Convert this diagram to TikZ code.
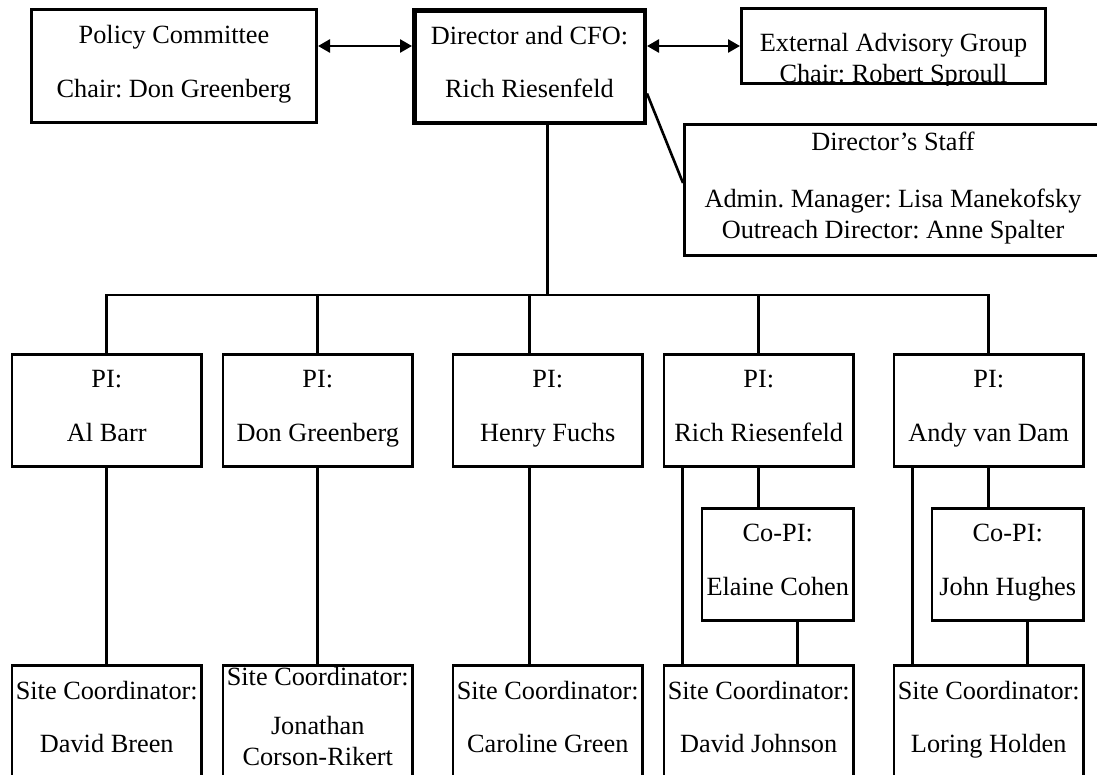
\documentclass[tikz,border=0pt]{standalone}
\usepackage{fontspec}
\setmainfont{Liberation Serif}
\usetikzlibrary{positioning,arrows.meta}
\frenchspacing

\begin{document}
\begin{tikzpicture}[x=1pt, y=-1pt, line width=2.6pt, align=center,
      font=\fontsize{26.3}{31.6}\selectfont, inner sep=1pt,
      >={Triangle[length=12pt,width=13pt]},
      txt/.style ={execute at begin node=\strut, execute at end node=\strut},
      box/.style ={draw, txt, minimum width=189.4pt, minimum height=112.4pt},
      head/.style={box, line width=4.5pt, minimum width=230.5pt, minimum height=112.5pt},
      copi/.style={box, minimum width=151.4pt},  ]

    \useasboundingbox (0,0) rectangle (1097,774);
    \clip (0,0) rectangle (1097,774);

    % top row
    \node[box, minimum width=285.4pt, minimum height=113.4pt] (policy) at (174,66)
         {Policy Committee\\[22pt]Chair: Don Greenberg};
    \node[head] (director) at (529.5,66.5) {Director and CFO:\\[22pt]Rich Riesenfeld};
    \node[box, minimum width=304.4pt, minimum height=75.4pt] (ext) at (893.5,46) {};
    \begin{scope}
      \clip (ext.north west) rectangle (ext.south east);
      \node[txt] (ext-text) at (893.5,62.5) {External Advisory Group\\Chair: Robert Sproull};
    \end{scope}
    \node[box, minimum width=417.4pt, minimum height=131.4pt] (staff) at (893,190)
         {Director’s Staff\\[25pt]Admin. Manager: Lisa Manekofsky\\[-1pt]Outreach Director: Anne Spalter};

    % PIs
    \node[box                        ] (pi-1) at (106.75,410.5) {PI:\\[22pt]Al Barr};
    \node[box, right = 19pt of pi-1  ] (pi-2) {PI:\\[22pt]Don Greenberg};
    \node[box, right = 38pt of pi-2  ] (pi-3) {PI:\\[22pt]Henry Fuchs};
    \node[box, right = 19pt of pi-3  ] (pi-4) {PI:\\[22pt]Rich Riesenfeld};
    \node[box, right = 38pt of pi-4  ] (pi-5) {PI:\\[22pt]Andy van Dam};

    \node[copi, below left = 39pt and 0pt of pi-4.south east] (copi-4) {Co-PI:\\[22pt]Elaine Cohen};
    \node[copi, below left = 39pt and 0pt of pi-5.south east] (copi-5) {Co-PI:\\[22pt]John Hughes};

    % site coordinators
    \begin{scope}[node distance=196pt]
      \node[box, below = of pi-1] (site-1) {Site Coordinator:\\[22pt]David Breen};
      \node[box, below = of pi-2] (site-2) {Site Coordinator:\\[17pt]Jonathan\\Corson-Rikert};
      \node[box, below = of pi-3] (site-3) {Site Coordinator:\\[22pt]Caroline Green};
      \node[box, below = of pi-4] (site-4) {Site Coordinator:\\[22pt]David Johnson};
      \node[box, below = of pi-5] (site-5) {Site Coordinator:\\[22pt]Loring Holden};
    \end{scope}

    \coordinate (bar) at (547.75,295);

    \draw[<->] (policy.east |- ext.west) -- (director.west |- ext.west);
    \draw[<->] (director.east |- ext.west) -- (ext.west);
    \draw ([yshift=-27pt]director.east) -- ([yshift=7pt]staff.west);

    \draw (director.south -| pi-3.north) -- (bar);
    \draw (pi-1.north) |- (bar) -| (pi-5.north);
    \draw (pi-2.north) -- (pi-2.north |- bar);
    \draw (director.south |- pi-3.north) -- (director.south |- bar);
    \draw (pi-4.north) -- (pi-4.north |- bar);

    \draw (pi-1) -- (site-1);
    \draw (pi-2) -- (site-2);
    \draw (director.south |- pi-3.south) -- (director.south |- site-3.north);
    \draw ([xshift=20pt]pi-4.south west) -- ([xshift=20pt]site-4.north west);
    \draw (pi-4.south) -- ([xshift=-19pt]copi-4.north);
    \draw ([xshift=19.5pt]copi-4.south) -- ([xshift=38.5pt]site-4.north);
    \draw ([xshift=20pt]pi-5.south west) -- ([xshift=20pt]site-5.north west);
    \draw (pi-5.south) -- ([xshift=-19pt]copi-5.north);
    \draw ([xshift=19.5pt]copi-5.south) -- ([xshift=38.5pt]site-5.north);

  \end{tikzpicture}
\end{document}
